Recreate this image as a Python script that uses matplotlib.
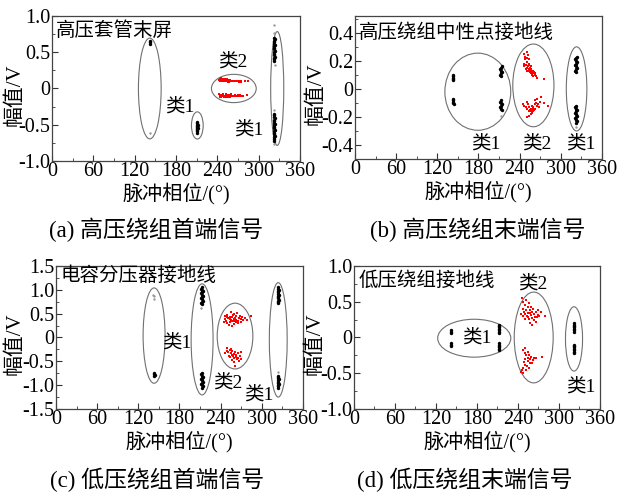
import numpy as np
import matplotlib.pyplot as plt
from matplotlib.patches import Ellipse
from matplotlib.ticker import MultipleLocator, FuncFormatter

plt.rcParams['font.family'] = ['Liberation Serif', 'Noto Sans CJK SC']
plt.rcParams['axes.unicode_minus'] = False

FIG_SIZE = (6.24, 4.92)

# ---------------- (a) 高压绕组首端信号 ----------------
a_k1_phase = [142, 142, 142,
              211, 210, 211, 212, 211, 210, 211, 212, 211, 210, 211, 211,
              323, 322, 323, 324, 323, 322, 323, 324, 323, 322, 323, 324, 323, 322, 323, 324, 323,
              323, 322, 323, 324, 323, 322, 323, 324, 323, 322, 323, 324, 323, 322, 323, 324, 323, 322, 323]
a_k1_amp = [0.62, 0.64, 0.65,
            -0.46, -0.48, -0.50, -0.51, -0.52, -0.53, -0.54, -0.55, -0.56, -0.57, -0.59, -0.61,
            0.38, 0.40, 0.42, 0.44, 0.46, 0.48, 0.50, 0.52, 0.54, 0.56, 0.58, 0.60, 0.62, 0.64, 0.66, 0.68, 0.70,
            -0.35, -0.37, -0.39, -0.41, -0.43, -0.45, -0.47, -0.49, -0.51, -0.53, -0.55, -0.57, -0.59, -0.61, -0.63, -0.65, -0.67, -0.69, -0.72]
a_k1_faint_phase = [142, 323, 323, 324, 322, 323, 322]
a_k1_faint_amp = [-0.62, 0.88, 0.77, 0.32, -0.30, -0.76, -0.68]
a_k2_phase = [243, 244, 245, 246, 247, 248, 249, 250, 251, 252, 253, 254, 255, 256, 257, 258, 259,
              260, 261, 262, 263, 264, 265, 266, 267, 268, 269, 270, 271, 272, 273, 274, 275,
              244, 246, 248, 250, 252, 254, 256, 258, 245, 249, 253, 257, 280, 284,
              243, 244, 245, 246, 247, 248, 249, 250, 251, 252, 253, 254, 255, 256, 257, 258,
              259, 260, 261, 262, 263, 264, 265, 266, 267, 268, 269, 270, 271, 272, 273, 274,
              244, 246, 248, 250, 252, 254, 256, 258, 260, 278, 283]
a_k2_amp = [0.12, 0.13, 0.11, 0.12, 0.13, 0.11, 0.12, 0.12, 0.11, 0.12, 0.11, 0.12, 0.11, 0.12, 0.10, 0.11, 0.10,
            0.11, 0.10, 0.11, 0.10, 0.10, 0.11, 0.10, 0.10, 0.11, 0.10, 0.10, 0.09, 0.10, 0.10, 0.09, 0.10,
            0.10, 0.14, 0.10, 0.13, 0.10, 0.13, 0.09, 0.12, 0.14, 0.10, 0.13, 0.09, 0.10, 0.11,
            -0.08, -0.09, -0.10, -0.09, -0.11, -0.10, -0.09, -0.11, -0.10, -0.12, -0.09, -0.10, -0.11, -0.10, -0.12, -0.09,
            -0.10, -0.11, -0.10, -0.10, -0.11, -0.10, -0.09, -0.10, -0.11, -0.10, -0.10, -0.09, -0.10, -0.10, -0.09, -0.10,
            -0.12, -0.12, -0.08, -0.12, -0.08, -0.12, -0.09, -0.12, -0.08, -0.11, -0.09]
# ellipse: centre phase, centre amplitude, width, height
a_ellipses = [(142, 0.0, 33, 1.39), (211, -0.51, 17, 0.375), (264, 0.0, 65, 0.39), (327, 0.0, 19, 1.57)]
a_cls = [('类1', 186, -0.26), ('类2', 263, 0.36), ('类1', 286, -0.57)]

# ---------------- (b) 高压绕组末端信号 ----------------
b_k1_phase = [143, 143, 143, 143, 143, 143, 143, 143, 143, 144,
              213, 212, 213, 214, 213, 212, 213, 214, 213, 212, 213, 214, 213, 212, 213, 214,
              322, 321, 322, 323, 322, 321, 322, 323, 322, 321, 322, 323,
              322, 321, 322, 323, 322, 321, 322, 323, 322, 321, 322, 323, 322]
b_k1_amp = [0.06, 0.07, 0.08, 0.09, 0.10, -0.07, -0.08, -0.09, -0.10, -0.11,
            0.09, 0.10, 0.11, 0.12, 0.13, 0.14, 0.15, 0.16, -0.08, -0.09, -0.10, -0.11, -0.12, -0.13, -0.14, -0.15,
            0.12, 0.13, 0.14, 0.15, 0.16, 0.17, 0.18, 0.19, 0.20, 0.21, 0.22, 0.23,
            -0.12, -0.13, -0.14, -0.15, -0.16, -0.17, -0.18, -0.19, -0.20, -0.21, -0.22, -0.23, -0.24]
b_k1_faint_phase = [322, 213]
b_k1_faint_amp = [-0.27, -0.19]
b_k2_phase = [248, 250, 252, 247, 249, 251, 253, 250, 252, 254, 255, 253, 256, 257, 258, 259, 260, 261,
              262, 263, 258, 256, 254, 249, 246, 251, 255, 257, 259, 264, 266, 275, 246, 251, 248, 253,
              250, 252, 254, 256, 258, 260, 262, 264, 255, 257, 259, 261, 253, 251, 249, 247, 245, 263,
              265, 267, 262, 266, 270, 276, 282, 250, 256, 253, 258, 260, 268, 271]
b_k2_amp = [0.21, 0.22, 0.24, 0.18, 0.17, 0.19, 0.18, 0.15, 0.16, 0.17, 0.15, 0.14, 0.13, 0.14, 0.12, 0.13, 0.11, 0.12,
            0.10, 0.11, 0.10, 0.11, 0.13, 0.14, 0.16, 0.13, 0.12, 0.16, 0.09, 0.09, 0.08, 0.07, 0.25, 0.26, 0.23, 0.21,
            -0.09, -0.11, -0.13, -0.14, -0.12, -0.13, -0.11, -0.10, -0.15, -0.16, -0.14, -0.15, -0.16, -0.14, -0.13, -0.12, -0.11, -0.14,
            -0.12, -0.11, -0.08, -0.07, -0.09, -0.10, -0.12, -0.20, -0.18, -0.19, -0.17, -0.16, -0.13, -0.06]
b_ellipses = [(179, -0.02, 96, 0.55), (260, 0.025, 60, 0.59), (323, 0.0, 30, 0.60)]
b_cls = [('类1', 190, -0.39), ('类2', 265, -0.39), ('类1', 329, -0.39)]

# ---------------- (c) 低压绕组首端信号 ----------------
c_k1_phase = [143, 143, 144, 143,
              213, 212, 213, 214, 213, 212, 213, 214, 213, 212, 213, 214, 213, 212, 213,
              213, 212, 213, 214, 213, 212, 213, 214, 213, 212, 213, 214, 213,
              324, 323, 324, 325, 324, 323, 324, 325, 324, 323, 324, 325, 324, 323,
              324, 323, 324, 325, 324, 323, 324, 325, 324, 323, 324]
c_k1_amp = [-0.75, -0.77, -0.79, -0.81,
            0.70, 0.725, 0.75, 0.775, 0.80, 0.825, 0.85, 0.875, 0.90, 0.925, 0.95, 0.975, 1.00, 1.025, 1.05,
            -0.75, -0.775, -0.80, -0.825, -0.85, -0.875, -0.90, -0.925, -0.95, -0.975, -1.00, -1.025, -1.05,
            0.72, 0.745, 0.77, 0.795, 0.82, 0.845, 0.87, 0.895, 0.92, 0.945, 0.97, 0.995, 1.02, 1.05,
            -0.80, -0.825, -0.85, -0.875, -0.90, -0.925, -0.95, -0.975, -1.00, -1.025, -1.05]
c_k1_faint_phase = [143, 143, 142, 212, 324]
c_k1_faint_amp = [0.80, 0.86, 0.90, 0.62, -0.72]
c_k2_phase = [247, 249, 251, 253, 255, 257, 259, 261, 263, 265, 267, 269, 271, 273, 250, 252, 254, 256, 258,
              260, 262, 264, 248, 246, 245, 257, 260, 266, 270, 275, 278, 285, 255, 250, 262, 268, 253, 259,
              249, 251, 253, 255, 257, 259, 261, 263, 265, 252, 254, 256, 258, 260, 262, 264, 266, 268,
              270, 250, 255, 257, 259, 261, 267, 247, 269]
c_k2_amp = [0.45, 0.42, 0.40, 0.38, 0.36, 0.34, 0.39, 0.41, 0.37, 0.35, 0.40, 0.38, 0.43, 0.36, 0.30, 0.27, 0.33, 0.44, 0.47,
            0.50, 0.46, 0.52, 0.35, 0.38, 0.32, 0.25, 0.28, 0.30, 0.33, 0.40, 0.37, 0.45, 0.53, 0.48, 0.32, 0.45, 0.42, 0.35,
            -0.28, -0.30, -0.27, -0.32, -0.29, -0.34, -0.31, -0.36, -0.33, -0.38, -0.41, -0.36, -0.39, -0.44, -0.40, -0.46, -0.42, -0.38,
            -0.30, -0.22, -0.24, -0.48, -0.52, -0.60, -0.50, -0.33, -0.45]
c_ellipses = [(143, 0.04, 32, 2.0), (213, -0.04, 32, 2.33), (261, 0.03, 52, 1.38), (324, -0.05, 26, 2.4)]
c_cls = [('类1', 176, -0.12), ('类2', 251, -0.95), ('类1', 295, -1.20)]

# ---------------- (d) 低压绕组末端信号 ----------------
d_k1_phase = [142, 142, 142, 142, 142, 142,
              212, 212, 212, 212, 212, 212, 212, 212, 212, 212, 212, 212, 212,
              322, 322, 322, 322, 322, 322, 322, 322, 322, 322, 322, 322, 322, 322]
d_k1_amp = [0.06, 0.08, 0.10, -0.08, -0.10, -0.12,
            0.06, 0.08, 0.10, 0.12, 0.14, 0.16, 0.17, -0.08, -0.10, -0.12, -0.14, -0.16, -0.18,
            0.08, 0.10, 0.12, 0.14, 0.16, 0.18, 0.20, -0.10, -0.12, -0.14, -0.16, -0.18, -0.20, -0.21]
d_k2_phase = [246, 248, 250, 247, 249, 251, 253, 255, 257, 259, 261, 263, 265, 267, 269, 271, 273, 280, 252,
              254, 256, 258, 260, 262, 264, 266, 268, 248, 250, 245, 257, 261, 256, 252, 270, 254, 259,
              248, 250, 252, 254, 256, 258, 255, 257, 253, 251, 249, 247, 246, 245, 250, 259, 260, 262,
              264, 267, 275, 252, 248, 256, 254, 251]
d_k2_amp = [0.55, 0.50, 0.45, 0.40, 0.36, 0.33, 0.30, 0.28, 0.34, 0.31, 0.27, 0.33, 0.29, 0.36, 0.32, 0.30, 0.35, 0.30, 0.38,
            0.42, 0.26, 0.38, 0.35, 0.40, 0.25, 0.22, 0.28, 0.30, 0.26, 0.33, 0.20, 0.18, 0.48, 0.52, 0.38, 0.34, 0.43,
            -0.18, -0.22, -0.25, -0.28, -0.24, -0.30, -0.33, -0.36, -0.40, -0.38, -0.34, -0.42, -0.45, -0.48, -0.30, -0.27, -0.35, -0.32,
            -0.29, -0.28, -0.27, -0.45, -0.50, -0.42, -0.20, -0.15]
d_ellipses = [(176, -0.01, 107, 0.53), (263, 0.0, 57, 1.27), (322, -0.02, 25, 0.90)]
d_cls = [('类1', 179, -0.01), ('类2', 262, 0.755), ('类1', 332, -0.685)]

panels = [
    dict(rect=[0.0833, 0.6728, 0.3974, 0.2947], ylim=(-1.0, 1.0), major=0.5,
         k1=(a_k1_phase, a_k1_amp), faint=(a_k1_faint_phase, a_k1_faint_amp), k2=(a_k2_phase, a_k2_amp),
         ells=a_ellipses, cls=a_cls, name='高压套管末屏', name_y=0.80, ylab_x=-0.109,
         caption='(a) 高压绕组首端信号', cap_xy=(0.25, 0.532)),
    dict(rect=[0.5689, 0.6768, 0.3958, 0.2907], ylim=(-0.5, 0.52), major=0.2,
         k1=(b_k1_phase, b_k1_amp), faint=(b_k1_faint_phase, b_k1_faint_amp), k2=(b_k2_phase, b_k2_amp),
         ells=b_ellipses, cls=b_cls, name='高压绕组中性点接地线', name_y=0.40, ylab_x=-0.117,
         caption='(b) 高压绕组末端信号', cap_xy=(0.766, 0.532)),
    dict(rect=[0.0897, 0.1687, 0.3958, 0.2907], ylim=(-1.5, 1.5), major=0.5,
         k1=(c_k1_phase, c_k1_amp), faint=(c_k1_faint_phase, c_k1_faint_amp), k2=(c_k2_phase, c_k2_amp),
         ells=c_ellipses, cls=c_cls, name='电容分压器接地线', name_y=1.29, ylab_x=-0.125,
         caption='(c) 低压绕组首端信号', cap_xy=(0.252, 0.024)),
    dict(rect=[0.5673, 0.1687, 0.3942, 0.2907], ylim=(-1.0, 1.0), major=0.5,
         k1=(d_k1_phase, d_k1_amp), faint=([], []), k2=(d_k2_phase, d_k2_amp),
         ells=d_ellipses, cls=d_cls, name='低压绕组接地线', name_y=0.79, ylab_x=-0.118,
         caption='(d) 低压绕组末端信号', cap_xy=(0.744, 0.024)),
]


def amp_fmt(v, pos):
    if abs(v) < 1e-9:
        return '0'
    return '%.1f' % v


fig = plt.figure(figsize=FIG_SIZE, dpi=100)

for p in panels:
    ax = fig.add_axes(p['rect'])
    for e in p['ells']:
        ax.add_patch(Ellipse((e[0], e[1]), e[2], e[3], fill=False,
                             edgecolor='#707070', lw=0.8))
    ax.scatter(p['faint'][0], p['faint'][1], s=3, color='#999999', marker='o', lw=0)
    ax.scatter(p['k1'][0], p['k1'][1], s=6, color='black', marker='o', lw=0)
    ax.scatter(p['k2'][0], p['k2'][1], s=3.5, color='red', marker='s', lw=0)
    for txt, x, y in p['cls']:
        ax.text(x, y, txt, fontsize=14, ha='center', va='center')
    ax.text(6, p['name_y'], p['name'], fontsize=14, ha='left', va='center')

    ax.set_xlim(0, 360)
    ax.set_ylim(*p['ylim'])
    ax.xaxis.set_major_locator(MultipleLocator(60))
    ax.xaxis.set_minor_locator(MultipleLocator(30))
    ax.yaxis.set_major_locator(MultipleLocator(p['major']))
    ax.yaxis.set_minor_locator(MultipleLocator(p['major'] / 2))
    ax.yaxis.set_major_formatter(FuncFormatter(amp_fmt))
    ax.tick_params(which='both', direction='in', labelsize=14.5, pad=1, colors='#333333',
                   labelcolor='black')
    ax.tick_params(which='major', length=4, width=0.8)
    ax.tick_params(which='minor', length=2, width=0.6)
    for s in ax.spines.values():
        s.set_color('#444444')
        s.set_linewidth(0.9)

    ax.set_xlabel('脉冲相位/(°)', fontsize=14.5, labelpad=1)
    ax.set_ylabel('幅值/V', fontsize=15)
    ax.yaxis.set_label_coords(p['ylab_x'], 0.46)

    fig.text(p['cap_xy'][0], p['cap_xy'][1], p['caption'], fontsize=16.5,
             ha='center', va='center')

fig.savefig('out.png', dpi=100)
